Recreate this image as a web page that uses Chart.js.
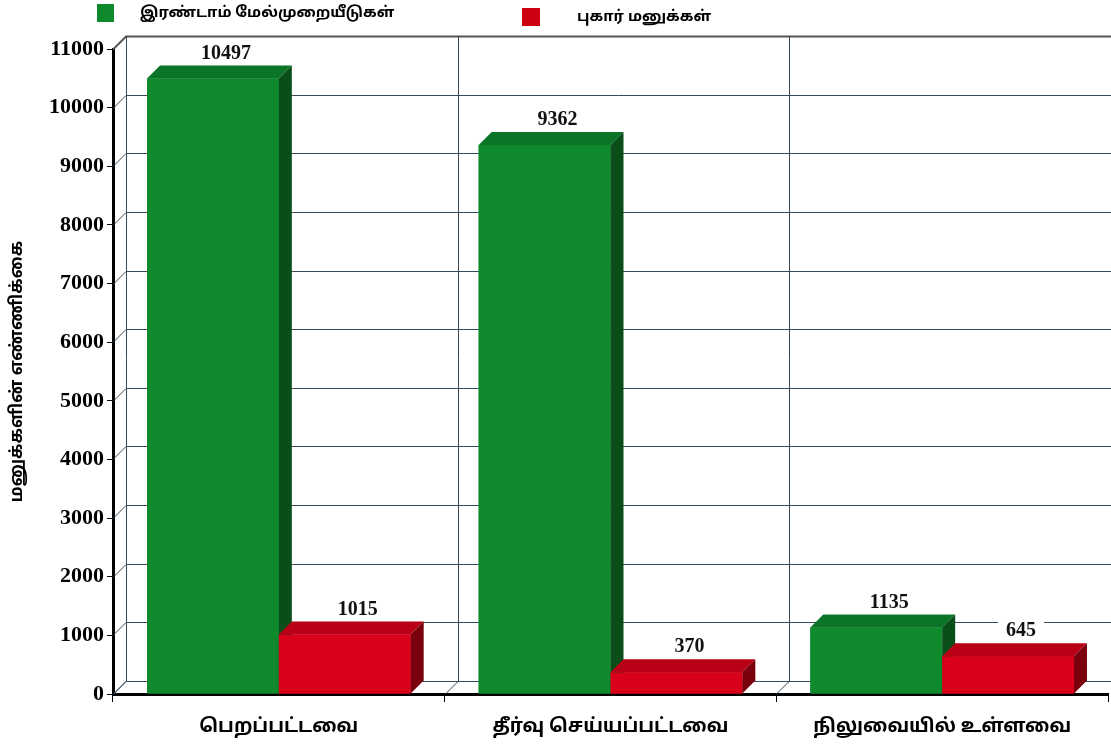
<!DOCTYPE html>
<html>
<head>
<meta charset="utf-8">
<script src="https://cdn.jsdelivr.net/npm/chart.js@4"></script>
<style>
html,body{margin:0;padding:0;background:#fff}
#wrap{width:1111px;height:746px}
</style>
</head>
<body>
<div id="wrap"><canvas id="canvas"></canvas></div>
<script>
const categories = ['பெறப்பட்டவை', 'தீர்வு செய்யப்பட்டவை', 'நிலுவையில் உள்ளவை'];
const appeals = [10497, 9362, 1135];
const complaints = [1015, 370, 645];
const seriesNames = ['இரண்டாம் மேல்முறையீடுகள்', 'புகார் மனுக்கள்'];
const yTitle = 'மனுக்களின் எண்ணிக்கை';
const yMax = 11000;
const yStep = 1000;

const tamilFont = '"Noto Sans Tamil", "Lohit Tamil", "Noto Sans", sans-serif';
const numFont = '"Liberation Serif", "DejaVu Serif", serif';

// depth of the fake 3d
const DX = 13, DY = 13;
const faces = [
    {front: '#0e8a2d', top: '#0b7426', side: '#094d19'},
    {front: '#d8001b', top: '#b90016', side: '#7a000e'}
];

const box3d = {
    id: 'box3d',
    beforeDatasetsDraw(chart){
        const ctx = chart.ctx, a = chart.chartArea;
        const y = chart.scales.y, x = chart.scales.x;
        ctx.save();
        for(let v = 0; v <= yMax; v += yStep){
            const py = Math.round(y.getPixelForValue(v)) + 0.5;
            ctx.strokeStyle = v === yMax ? '#555555' : '#34495a';
            ctx.lineWidth = v === yMax ? 2 : 1;
            ctx.beginPath();
            ctx.moveTo(a.left, py);
            ctx.lineTo(a.left + DX, py - DY);
            ctx.lineTo(chart.width, py - DY);
            ctx.stroke();
        }
        ctx.lineWidth = 1;
        ctx.strokeStyle = '#34495a';
        const bounds = [a.left];
        for(let i = 1; i < categories.length; i++){
            bounds.push((x.getPixelForValue(i - 1) + x.getPixelForValue(i)) / 2);
        }
        bounds.forEach(bx => {
            bx = Math.round(bx) + 0.5;
            ctx.beginPath();
            ctx.moveTo(bx, a.bottom);
            ctx.lineTo(bx + DX, a.bottom - DY);
            ctx.lineTo(bx + DX, a.top - DY);
            ctx.stroke();
        });
        ctx.restore();
    },
    afterDatasetsDraw(chart){
        const ctx = chart.ctx;
        ctx.save();
        const labels = [];
        for(let i = 0; i < categories.length; i++){
            chart.data.datasets.forEach((ds, d) => {
                const el = chart.getDatasetMeta(d).data[i];
                const p = el.getProps(['x', 'y', 'base', 'width'], true);
                const l = p.x - p.width / 2, r = p.x + p.width / 2;
                const f = faces[d];
                ctx.fillStyle = f.front;
                ctx.fillRect(l, p.y, p.width, p.base - p.y);
                ctx.fillStyle = f.top;
                ctx.beginPath();
                ctx.moveTo(l, p.y);
                ctx.lineTo(l + DX, p.y - DY);
                ctx.lineTo(r + DX, p.y - DY);
                ctx.lineTo(r, p.y);
                ctx.closePath();
                ctx.fill();
                ctx.fillStyle = f.side;
                ctx.beginPath();
                ctx.moveTo(r, p.y);
                ctx.lineTo(r + DX, p.y - DY);
                ctx.lineTo(r + DX, p.base - DY);
                ctx.lineTo(r, p.base);
                ctx.closePath();
                ctx.fill();
                labels.push({x: p.x + DX, y: p.y - DY, v: ds.data[i]});
            });
        }
        ctx.font = 'bold 20px ' + numFont;
        ctx.textAlign = 'center';
        ctx.textBaseline = 'bottom';
        labels.forEach(t => {
            const s = String(t.v);
            const w = ctx.measureText(s).width;
            ctx.fillStyle = '#ffffff';
            ctx.fillRect(t.x - w / 2 - 8, t.y - 24, w + 16, 22);
            ctx.fillStyle = '#111111';
            ctx.fillText(s, t.x, t.y - 2);
        });
        ctx.restore();
    },
    afterDraw(chart){
        const ctx = chart.ctx;
        ctx.save();
        ctx.font = 'bold 15px ' + tamilFont;
        ctx.textBaseline = 'middle';
        ctx.textAlign = 'left';
        ctx.fillStyle = faces[0].front;
        ctx.fillRect(97, 4, 17, 18);
        ctx.fillStyle = '#000';
        ctx.fillText(seriesNames[0], 140, 14);
        ctx.fillStyle = '#cc0010';
        ctx.fillRect(522, 8, 18, 18);
        ctx.fillStyle = '#000';
        ctx.fillText(seriesNames[1], 577, 18);
        ctx.restore();
    }
};

const ctx = document.getElementById('canvas').getContext('2d');
const myChart = new Chart(ctx, {
    type: 'bar',
    data: {
        labels: categories,
        datasets: [{
            label: seriesNames[0],
            data: appeals,
            backgroundColor: faces[0].front,
            barPercentage: 1,
            categoryPercentage: 0.795
        }, {
            label: seriesNames[1],
            data: complaints,
            backgroundColor: faces[1].front,
            barPercentage: 1,
            categoryPercentage: 0.795
        }]
    },
    options: {
        responsive: true,
        maintainAspectRatio: false,
        animation: false,
        layout: {padding: {top: 49, right: 3, left: 0, bottom: 0}},
        plugins: {
            legend: {display: false},
            tooltip: {enabled: false}
        },
        scales: {
            x: {
                afterFit(scale){ scale.height = 52; },
                border: {color: '#000', width: 3},
                grid: {drawOnChartArea: false, tickLength: 8, color: '#000', offset: true},
                ticks: {color: '#000', padding: 15, font: {family: tamilFont, size: 19, weight: 'bold'}}
            },
            y: {
                min: 0,
                max: yMax,
                afterFit(scale){ scale.width = 113; },
                border: {color: '#000', width: 3},
                grid: {drawOnChartArea: false, tickLength: 6, color: '#000'},
                ticks: {
                    stepSize: yStep,
                    color: '#000',
                    padding: 3,
                    font: {family: numFont, size: 22, weight: 'bold'},
                    callback: v => String(v)
                },
                title: {display: true, text: yTitle, color: '#000', padding: {top: 8, bottom: 0}, font: {family: tamilFont, size: 17, weight: 'bold'}}
            }
        }
    },
    plugins: [box3d]
});
</script>
</body>
</html>
